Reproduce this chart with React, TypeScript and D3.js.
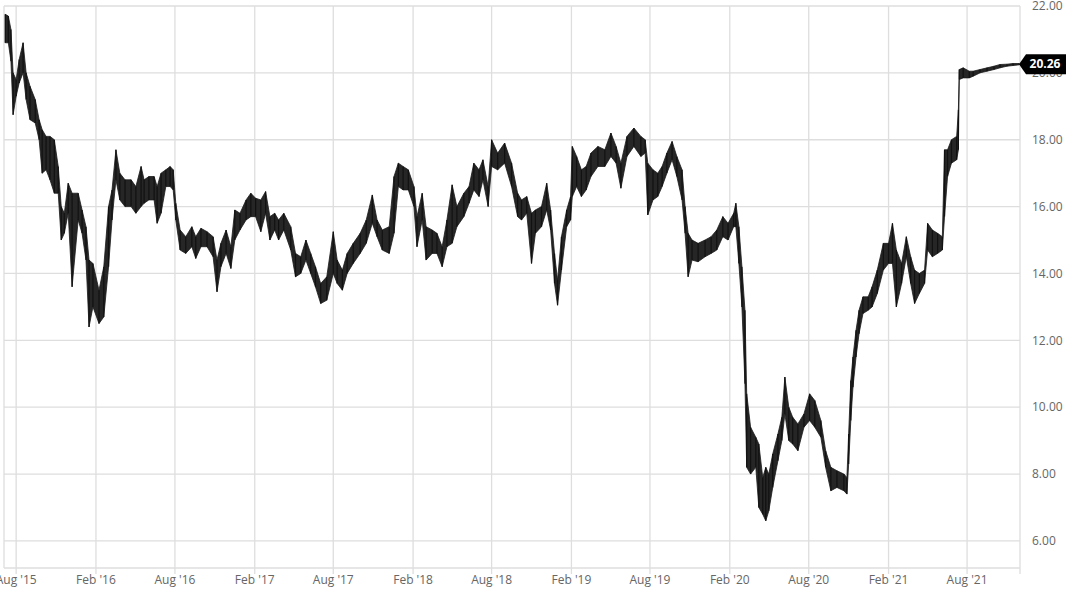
import React from "react";
import * as d3 from "d3";

const dates: string[] = [
  "2015-07-07","2015-07-14","2015-07-20","2015-07-25","2015-08-01","2015-08-08","2015-08-17","2015-08-24","2015-09-02","2015-09-14",
  "2015-09-23","2015-09-30","2015-10-09","2015-10-18","2015-10-28","2015-11-06","2015-11-13","2015-11-20","2015-11-29","2015-12-08",
  "2015-12-22","2015-12-31","2016-01-09","2016-01-16","2016-01-25","2016-02-08","2016-02-19","2016-03-01","2016-03-09","2016-03-18",
  "2016-03-27","2016-04-08","2016-04-22","2016-05-03","2016-05-15","2016-05-22","2016-06-02","2016-06-14","2016-06-21","2016-06-30",
  "2016-07-11","2016-07-21","2016-07-28","2016-08-03","2016-08-13","2016-08-26","2016-09-09","2016-09-18","2016-09-30","2016-10-14",
  "2016-10-28","2016-11-06","2016-11-15","2016-11-27","2016-12-08","2016-12-17","2016-12-29","2017-01-12","2017-01-23","2017-02-03",
  "2017-02-15","2017-02-26","2017-03-08","2017-03-19","2017-03-28","2017-04-09","2017-04-25","2017-05-06","2017-05-18","2017-05-30",
  "2017-06-10","2017-06-21","2017-07-03","2017-07-17","2017-08-01","2017-08-10","2017-08-22","2017-09-02","2017-09-16","2017-10-02",
  "2017-10-16","2017-10-30","2017-11-10","2017-11-22","2017-12-08","2017-12-19","2017-12-29","2018-01-09","2018-01-21","2018-02-03",
  "2018-02-10","2018-02-22","2018-03-03","2018-03-17","2018-03-28","2018-04-09","2018-04-20","2018-05-02","2018-05-13","2018-05-29",
  "2018-06-10","2018-06-21","2018-07-03","2018-07-12","2018-07-24","2018-08-01","2018-08-15","2018-08-31","2018-09-16","2018-09-30",
  "2018-10-09","2018-10-21","2018-11-01","2018-11-10","2018-11-24","2018-12-06","2018-12-15","2018-12-24","2018-12-31","2019-01-09",
  "2019-01-21","2019-01-30","2019-02-03","2019-02-13","2019-02-24","2019-03-07","2019-03-18","2019-04-03","2019-04-19","2019-05-03",
  "2019-05-15","2019-05-26","2019-06-09","2019-06-25","2019-07-11","2019-07-21","2019-07-27","2019-08-08","2019-08-19","2019-08-29",
  "2019-09-09","2019-09-21","2019-10-02","2019-10-14","2019-10-21","2019-10-28","2019-11-06","2019-11-20","2019-12-06","2019-12-20",
  "2020-01-02","2020-01-16","2020-01-28","2020-02-10","2020-02-15","2020-02-22","2020-02-29","2020-03-07","2020-03-11","2020-03-20",
  "2020-04-01","2020-04-08","2020-04-17","2020-04-24","2020-05-01","2020-05-10","2020-05-22","2020-05-31","2020-06-07","2020-06-16",
  "2020-06-25","2020-07-07","2020-07-21","2020-08-03","2020-08-15","2020-08-29","2020-09-09","2020-09-21","2020-10-05","2020-10-21",
  "2020-10-28","2020-11-01","2020-11-06","2020-11-11","2020-11-18","2020-11-25","2020-12-04","2020-12-16","2020-12-25","2021-01-06",
  "2021-01-20","2021-02-01","2021-02-10","2021-02-19","2021-03-03","2021-03-14","2021-03-24","2021-04-02","2021-04-13","2021-04-25",
  "2021-05-02","2021-05-13","2021-05-25","2021-06-05","2021-06-10","2021-06-17","2021-06-26","2021-07-08","2021-07-12","2021-07-14",
  "2021-07-23","2021-08-06","2021-08-15","2021-08-31","2021-09-16","2021-10-02","2021-10-16","2021-11-01","2021-11-15","2021-11-29"
];

const highs: number[] = [
  21.75,21.7,21.3,20.0,19.8,20.4,20.9,20.0,19.6,19.2,
  18.6,18.3,18.1,18.1,18.0,17.2,16.0,15.8,16.7,16.4,
  16.4,15.9,15.4,14.4,14.3,13.5,14.2,16.0,16.5,17.7,
  17.0,16.8,16.8,16.6,17.2,16.8,16.9,16.9,16.6,17.0,
  17.1,17.2,17.1,16.1,15.3,15.1,15.4,15.1,15.35,15.25,
  15.1,14.4,14.9,15.3,14.8,15.9,15.8,16.2,16.4,16.25,
  16.2,16.45,15.7,15.8,15.6,15.8,15.4,14.6,14.5,15.0,
  14.6,14.2,13.7,13.9,15.25,14.4,14.1,14.6,14.9,15.2,
  15.6,16.35,15.6,15.3,15.4,16.9,17.3,17.2,17.1,16.6,
  15.7,16.4,15.4,15.3,15.2,14.8,15.6,16.65,16.0,16.4,
  16.6,17.3,17.1,17.4,16.6,18.0,17.6,17.9,17.3,16.4,
  16.2,16.3,15.8,15.9,16.0,16.7,15.9,14.6,13.8,15.1,
  15.9,16.3,17.8,17.5,17.1,17.2,17.6,17.8,17.7,18.2,
  17.8,17.3,18.1,18.35,18.1,18.0,17.3,17.1,17.0,17.2,
  17.6,17.95,17.5,17.1,16.0,15.2,15.0,14.9,15.0,15.1,
  15.3,15.7,15.5,15.8,16.1,15.4,14.2,12.9,10.4,9.4,
  9.1,8.9,7.9,8.2,8.0,8.6,9.2,9.7,10.9,10.0,
  9.7,9.5,9.8,10.4,10.2,9.6,8.7,8.2,8.1,8.0,
  7.9,9.2,10.8,11.5,12.3,12.9,13.3,13.3,13.6,14.1,
  14.9,14.9,15.5,14.7,14.3,15.1,14.5,14.1,14.0,14.1,
  15.5,15.3,15.2,15.1,17.7,17.7,18.0,18.1,18.9,20.1,
  20.15,20.05,20.05,20.1,20.15,20.2,20.25,20.26,20.28,20.28
];

const lows: number[] = [
  20.9,20.9,20.35,18.75,19.3,19.7,20.0,19.2,18.6,18.5,
  18.0,17.0,17.1,16.8,16.4,16.4,15.0,15.2,15.8,13.6,
  15.6,15.2,14.4,12.4,13.0,12.5,12.7,14.2,15.6,16.8,
  16.2,16.0,16.0,15.8,16.0,16.1,16.2,16.2,15.5,15.8,
  16.6,16.6,16.5,15.6,14.7,14.6,14.8,14.45,14.8,14.8,
  14.5,13.45,14.2,14.6,14.15,15.0,15.3,15.6,15.7,15.7,
  15.25,15.8,15.0,15.3,15.0,15.3,14.7,13.9,14.0,14.4,
  14.0,13.6,13.1,13.2,14.0,13.7,13.5,14.0,14.3,14.6,
  14.9,15.5,15.1,14.7,14.6,15.2,16.6,16.5,16.5,16.0,
  14.8,15.6,14.4,14.6,14.6,14.2,14.8,14.9,15.4,15.7,
  16.1,16.5,16.3,16.8,16.0,17.2,17.1,17.3,16.6,15.7,
  15.6,15.8,14.3,15.2,15.4,15.9,15.3,13.7,13.05,14.1,
  15.4,15.6,16.3,16.6,16.3,16.5,16.9,17.2,17.2,17.5,
  17.3,16.55,17.5,17.8,17.5,17.6,15.75,16.2,16.3,16.6,
  17.0,17.4,16.9,16.2,15.2,13.9,14.4,14.35,14.5,14.6,
  14.7,15.1,15.0,15.4,15.4,14.3,13.0,10.7,8.2,8.0,
  8.2,7.0,6.8,6.6,6.9,7.6,8.4,9.0,9.8,9.0,
  8.9,8.7,9.4,9.6,9.4,9.1,8.2,7.5,7.6,7.5,
  7.4,8.3,9.6,10.6,11.5,12.2,12.8,12.9,13.0,13.4,
  14.1,14.3,14.3,13.0,13.7,14.5,13.7,13.1,13.4,13.7,
  14.7,14.5,14.6,14.7,15.7,16.9,17.3,17.4,17.7,19.8,
  19.85,19.85,19.9,20.0,20.05,20.1,20.15,20.2,20.22,20.24
];

const yTicks: number[] = [6, 8, 10, 12, 14, 16, 18, 20, 22];
const xTickDates: string[] = [
  "2015-08-01","2016-02-01","2016-08-01","2017-02-01","2017-08-01","2018-02-01",
  "2018-08-01","2019-02-01","2019-08-01","2020-02-01","2020-08-01","2021-02-01","2021-08-01"
];
const lastPrice = 20.26;

const W = 1072;
const H = 603;
const left = 4;
const right = 1020;
const top = 6;
const bottom = 568;
const FONT = "'Open Sans', 'Noto Sans', sans-serif";

export default function App() {
  const parse = d3.utcParse("%Y-%m-%d");
  const data = dates.map((d, i) => ({ date: parse(d) as Date, hi: highs[i], lo: lows[i] }));

  const x = d3
    .scaleUtc()
    .domain([parse("2015-07-04") as Date, parse("2021-12-01") as Date])
    .range([left, right]);
  const y = d3.scaleLinear().domain([5.19, 22]).range([bottom, top]);

  const area = d3
    .area<{ date: Date; hi: number; lo: number }>()
    .x((d) => x(d.date))
    .y0((d) => y(d.lo))
    .y1((d) => y(d.hi));

  const fmt = d3.utcFormat("%b '%y");
  const grid = "#dedede";
  const ly = y(lastPrice);

  return (
    <svg
      width={W}
      height={H}
      style={{ position: "absolute", left: 0, top: 0, background: "#fff" }}
      fontFamily={FONT}
    >
      <defs>
        <clipPath id="plot">
          <rect x={left} y={top - 2} width={right - left} height={bottom - top + 2} />
        </clipPath>
      </defs>
      {/* horizontal gridlines */}
      {yTicks.map((t) => (
        <line key={"h" + t} x1={left} x2={right} y1={y(t)} y2={y(t)} stroke={grid} strokeWidth={1.3} />
      ))}
      {/* vertical gridlines */}
      {xTickDates.map((d) => {
        const xx = x(parse(d) as Date);
        return <line key={"v" + d} x1={xx} x2={xx} y1={top} y2={bottom + 6} stroke={grid} strokeWidth={1.3} />;
      })}
      {/* frame */}
      <line x1={left} x2={left} y1={top} y2={bottom} stroke={grid} strokeWidth={1.3} />
      <line x1={right} x2={right} y1={top} y2={bottom + 6} stroke={grid} strokeWidth={1.3} />
      <line x1={left} x2={right} y1={bottom} y2={bottom} stroke={grid} strokeWidth={1.3} />

      {/* price series */}
      <g clipPath="url(#plot)">
        <path d={area(data) || ""} fill="#262626" stroke="#1a1a1a" strokeWidth={0.8} />
        {data.map((d, i) => (
          <line
            key={"b" + i}
            x1={x(d.date)}
            x2={x(d.date)}
            y1={y(d.hi)}
            y2={y(d.lo)}
            stroke="#111"
            strokeWidth={1.2}
          />
        ))}
      </g>

      {/* y labels */}
      {yTicks.map((t) => (
        <text key={"yl" + t} x={1032} y={y(t)} dy="0.35em" fontSize={12} fill="#666">
          {t.toFixed(2)}
        </text>
      ))}
      {/* x labels */}
      {xTickDates.map((d) => (
        <text
          key={"xl" + d}
          x={x(parse(d) as Date)}
          y={584}
          textAnchor="middle"
          fontSize={12}
          fill="#666"
        >
          {fmt(parse(d) as Date)}
        </text>
      ))}

      {/* last price marker */}
      <path
        d={`M${right - 1},${ly} L${right + 6},${ly - 10} L1066,${ly - 10} L1066,${ly + 10} L${right + 6},${ly + 10} Z`}
        fill="#000"
      />
      <text x={1045} y={ly} dy="0.36em" fontSize={12} fontWeight="bold" fill="#fff" textAnchor="middle">
        {lastPrice.toFixed(2)}
      </text>
    </svg>
  );
}
